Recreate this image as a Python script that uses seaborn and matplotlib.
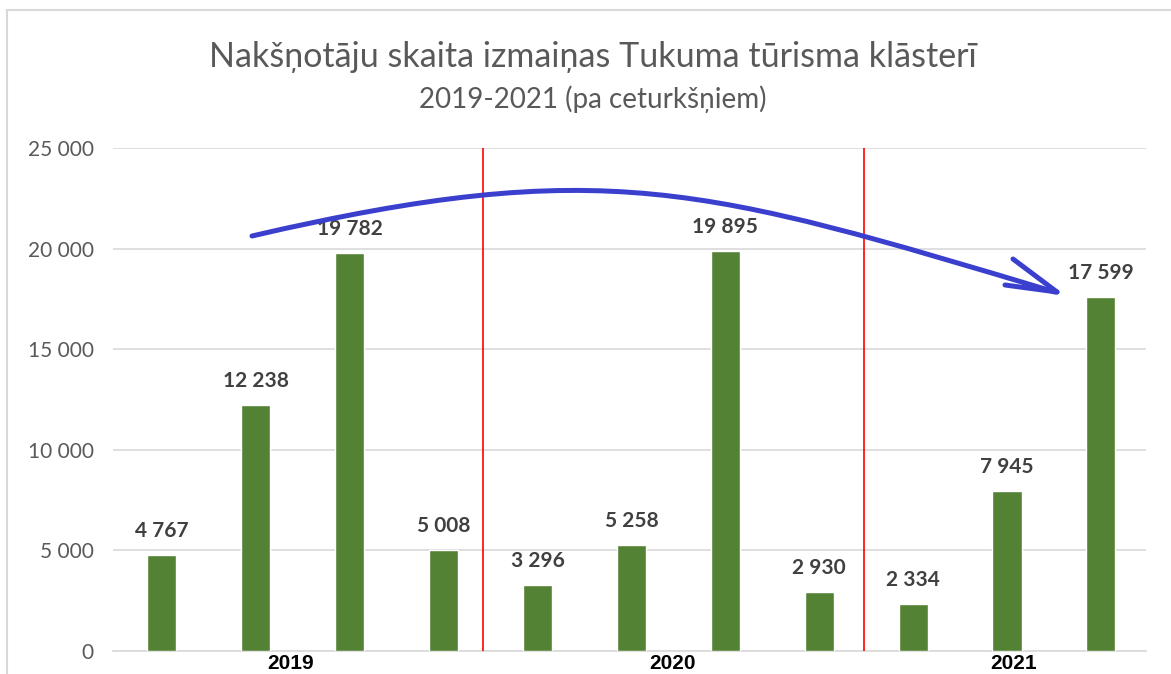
import matplotlib
matplotlib.use("Agg")
import matplotlib.pyplot as plt
import seaborn as sns
import pandas as pd
import numpy as np
from matplotlib.path import Path
from matplotlib.patches import PathPatch, Rectangle

# ---- data ----
quarters = ["2019 Q1", "2019 Q2", "2019 Q3", "2019 Q4",
            "2020 Q1", "2020 Q2", "2020 Q3", "2020 Q4",
            "2021 Q1", "2021 Q2", "2021 Q3"]
values = [4767, 12238, 19782, 5008,
          3296, 5258, 19895, 2930,
          2334, 7945, 17599]
value_labels = ["4 767", "12 238", "19 782", "5 008",
                "3 296", "5 258", "19 895", "2 930",
                "2 334", "7 945", "17 599"]
years = ["2019", "2020", "2021"]
year_positions = [1.37, 5.44, 9.07]
separators = [3.42, 7.48]
yticks = [0, 5000, 10000, 15000, 20000, 25000]
ytick_labels = ["0", "5 000", "10 000", "15 000", "20 000", "25 000"]
title = "Nakšņotāju skaita izmaiņas Tukuma tūrisma klāsterī"
subtitle = "2019-2021 (pa ceturkšņiem)"

df = pd.DataFrame({"quarter": quarters, "value": values})

sns.set_theme(style="white")
plt.rcParams["font.family"] = ["Lato", "DejaVu Sans"]

W, H = 1171, 674
fig = plt.figure(figsize=(W / 100, H / 100), dpi=100)
fig.patch.set_facecolor("white")

# chart border
fig.patches.append(Rectangle((7 / W, -0.1), 1.2, 1.1 - 10 / H, transform=fig.transFigure,
                             fill=False, edgecolor="#d9d9d9", linewidth=1.5))

ax = fig.add_axes([113 / W, 1 - 651 / H, (1146 - 113) / W, (651 - 148) / H])
sns.barplot(data=df, x="quarter", y="value", order=quarters, color="#548235",
            width=0.31, saturation=1, ax=ax, zorder=3)

ax.set_ylim(0, 25000)
ax.set_xlim(-0.52, 10.48)
ax.set_yticks(yticks)
ax.set_yticklabels(ytick_labels, color="#595959", fontsize=15)
ax.tick_params(axis="y", length=0, pad=14)
ax.set_xticks([])
ax.set_xlabel("")
ax.set_ylabel("")
ax.grid(axis="y", color="#d9d9d9", linewidth=1.2, zorder=0)
for s in ["top", "right", "left"]:
    ax.spines[s].set_visible(False)
ax.spines["bottom"].set_color("#d9d9d9")
ax.spines["bottom"].set_linewidth(1.2)

# value labels
for i, (v, lab) in enumerate(zip(values, value_labels)):
    ax.annotate(lab, (i, v), xytext=(0, 18), textcoords="offset pixels",
                ha="center", va="baseline", fontsize=15, fontweight="bold",
                color="#404040")

# separators
for s in separators:
    ax.axvline(s, color="#ff0000", linewidth=1.2, zorder=4)

# year labels
for x, y in zip(year_positions, years):
    ax.text(x, -(673 - 651) / (651 - 148), y, transform=ax.get_xaxis_transform(),
            ha="center", va="bottom", fontsize=15, fontweight="bold", color="black",
            family=["Liberation Sans", "DejaVu Sans"], clip_on=False)

# titles
fig.text(593 / W, 1 - 57 / H, title, ha="center", va="center", fontsize=24.5,
         color="#595959")
fig.text(593 / W, 1 - 99 / H, subtitle, ha="center", va="center", fontsize=20,
         color="#595959")

# hand-drawn blue arrow (pixel -> data helpers)
def px2data(px, py):
    return ax.transData.inverted().transform((px, H - py))

fig.canvas.draw()
pts = [px2data(252, 236), px2data(602, 155), px2data(705, 187), px2data(1055, 292)]
path = Path(pts, [Path.MOVETO, Path.CURVE4, Path.CURVE4, Path.CURVE4])
ax.add_patch(PathPatch(path, fill=False, edgecolor="#3b3fce", linewidth=3.6,
                       capstyle="round", zorder=6, clip_on=False))
tip = px2data(1057, 292)
for a in [px2data(1013, 259), px2data(1005, 285)]:
    ax.plot([a[0], tip[0]], [a[1], tip[1]], color="#3b3fce", linewidth=3.6,
            solid_capstyle="round", zorder=6, clip_on=False)

fig.savefig("out.png", dpi=100)
